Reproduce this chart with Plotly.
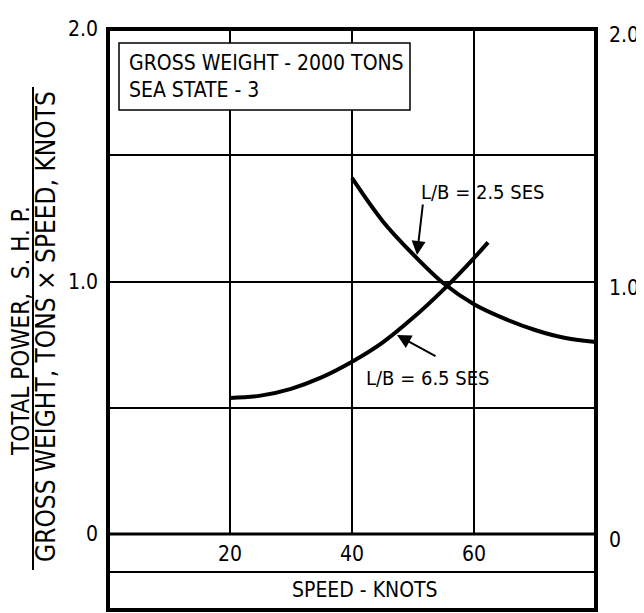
import plotly.graph_objects as go

# ---- data ----
speed_25 = [40, 45, 50, 55, 60, 65, 70, 75, 80]
power_25 = [1.41, 1.24, 1.108, 0.993, 0.91, 0.853, 0.808, 0.776, 0.76]

speed_65 = [20, 25, 30, 35, 40, 45, 50, 55, 60, 62.3]
power_65 = [0.539, 0.548, 0.575, 0.62, 0.682, 0.758, 0.856, 0.968, 1.093, 1.155]

x_ticks = [20, 40, 60]
x_tick_text = ["20", "40", "60"]
y_ticks = [0, 1, 2]
y_tick_text = ["0", "1.0", "2.0"]
y_minor = [0.5, 1.5]

FONT = "Liberation Sans Narrow, Arial Narrow, DejaVu Sans Condensed, Liberation Sans, sans-serif"

# the page body adds an 8px offset; figure is sized so the frame lands where the reference has it
OFF = 8
W, H = 644 - OFF, 613 - OFF
L, R, T, B = 108 - OFF, 48, 29 - OFF, 3
PW, PH = W - L - R, H - T - B
LEFT_PX, BOTTOM_PX = 108, 610   # screen pixels of plot area left / bottom

def px(xp):
    return (xp - LEFT_PX) / PW

def py(yp):
    return (BOTTOM_PX - yp) / PH

y0_paper = py(534)

fig = go.Figure()
fig.add_trace(go.Scatter(x=speed_25, y=power_25, mode="lines",
                         line=dict(color="black", width=4, shape="spline"),
                         showlegend=False, hoverinfo="skip"))
fig.add_trace(go.Scatter(x=speed_65, y=power_65, mode="lines",
                         line=dict(color="black", width=4, shape="spline"),
                         showlegend=False, hoverinfo="skip"))
fig.add_trace(go.Scatter(x=speed_25, y=power_25, yaxis="y2", mode="lines",
                         line=dict(color="rgba(0,0,0,0)", width=0),
                         showlegend=False, hoverinfo="skip"))

shapes = []
# frame
shapes.append(dict(type="rect", xref="paper", yref="paper", x0=0, x1=1, y0=0, y1=1,
                   line=dict(color="black", width=4), layer="above"))
# zero line and band line
shapes.append(dict(type="line", xref="paper", yref="paper", x0=0, x1=1,
                   y0=y0_paper, y1=y0_paper, line=dict(color="black", width=3), layer="above"))
shapes.append(dict(type="line", xref="paper", yref="paper", x0=0, x1=1,
                   y0=py(572), y1=py(572), line=dict(color="black", width=2), layer="above"))
# info box
shapes.append(dict(type="rect", xref="paper", yref="paper", x0=px(119), x1=px(410),
                   y0=py(110), y1=py(43), fillcolor="white",
                   line=dict(color="black", width=1.5), layer="above"))
# fraction bar of y title
shapes.append(dict(type="line", xref="paper", yref="paper", x0=px(33), x1=px(33),
                   y0=py(87), y1=py(570), line=dict(color="black", width=2), layer="above"))

annotations = []
annotations.append(dict(xref="paper", yref="paper", x=px(127), y=py(76.5),
                        xanchor="left", yanchor="middle", align="left", showarrow=False,
                        text="GROSS WEIGHT - 2000 TONS<br>SEA STATE - 3",
                        font=dict(family=FONT, size=21, color="black")))
annotations.append(dict(xref="paper", yref="paper", x=px(365), y=py(590),
                        xanchor="center", yanchor="middle", showarrow=False,
                        text="SPEED - KNOTS", font=dict(family=FONT, size=21, color="black")))
annotations.append(dict(xref="paper", yref="paper", x=px(21), y=py(331),
                        xanchor="center", yanchor="middle", showarrow=False, textangle=-90,
                        text="TOTAL POWER,  S. H. P.", font=dict(family=FONT, size=24, color="black")))
annotations.append(dict(xref="paper", yref="paper", x=px(46), y=py(327),
                        xanchor="center", yanchor="middle", showarrow=False, textangle=-90,
                        text="GROSS WEIGHT, TONS × SPEED, KNOTS",
                        font=dict(family=FONT, size=26, color="black")))

def dx(p):
    return (p - LEFT_PX) / PW * 80

def dy(p):
    return (534 - p) / (534 - 29) * 2

# curve labels
annotations.append(dict(x=dx(482), y=dy(192), xref="x", yref="y", showarrow=False,
                        text="L/B = 2.5 SES", font=dict(family=FONT, size=20, color="black")))
annotations.append(dict(x=dx(427), y=dy(378), xref="x", yref="y", showarrow=False,
                        text="L/B = 6.5 SES", font=dict(family=FONT, size=20, color="black")))
# arrows
annotations.append(dict(x=dx(417), y=dy(255), ax=dx(423), ay=dy(203), xref="x", yref="y",
                        axref="x", ayref="y", text="", showarrow=True, arrowhead=2,
                        arrowsize=1.4, arrowwidth=2, arrowcolor="black"))
annotations.append(dict(x=dx(397), y=dy(335), ax=dx(437), ay=dy(357), xref="x", yref="y",
                        axref="x", ayref="y", text="", showarrow=True, arrowhead=2,
                        arrowsize=1.4, arrowwidth=2, arrowcolor="black"))

fig.update_layout(
    width=W, height=H,
    margin=dict(l=L, r=R, t=T, b=B, autoexpand=False),
    paper_bgcolor="white", plot_bgcolor="white",
    font=dict(family=FONT, size=21, color="black"),
    xaxis=dict(range=[0, 80], tickvals=x_ticks, ticktext=x_tick_text,
               showgrid=True, gridcolor="black", gridwidth=1.5, automargin=False,
               zeroline=False, showline=False, ticks="", ticklabelstandoff=5,
               fixedrange=True),
    yaxis=dict(range=[0, 2], domain=[y0_paper, 1], tickvals=y_ticks, ticktext=y_tick_text,
               showgrid=True, gridcolor="black", gridwidth=1.5, automargin=False,
               minor=dict(tickvals=y_minor, showgrid=True, gridcolor="black", gridwidth=1.5),
               zeroline=False, showline=False, ticks="", ticklabelstandoff=9),
    yaxis2=dict(range=[0, 2], domain=[y0_paper, 1], overlaying="y", side="right",
                tickvals=y_ticks, ticktext=y_tick_text, showgrid=False, zeroline=False,
                automargin=False, showline=False, ticks="", ticklabelstandoff=12,
                ticklabelshift=6),
    shapes=shapes,
    annotations=annotations,
)

fig.write_html("out.html")
